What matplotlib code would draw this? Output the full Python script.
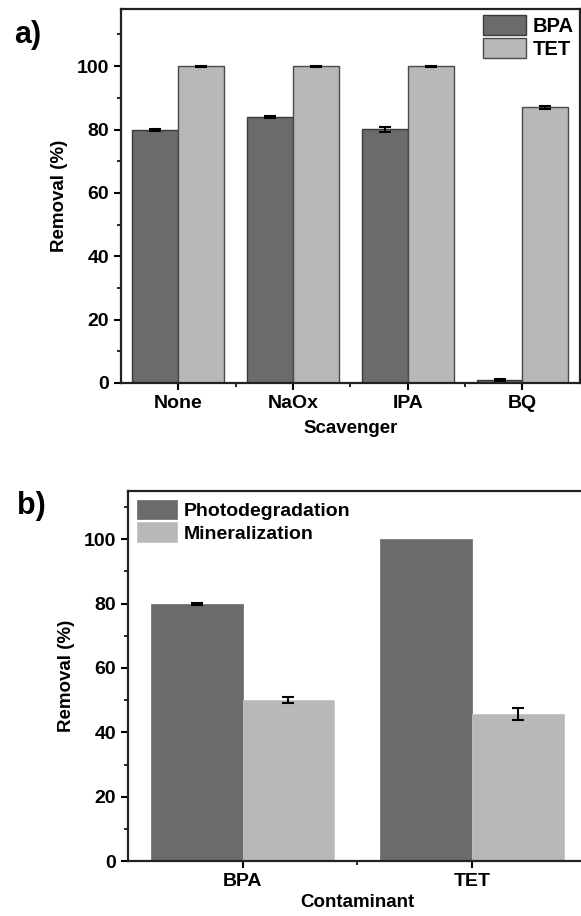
import numpy as np
import matplotlib.pyplot as plt
from matplotlib.ticker import MultipleLocator

plt.rcParams['font.family'] = ['Liberation Sans', 'DejaVu Sans']
plt.rcParams['font.weight'] = 'bold'

# scavenger test
scavengers = ['None', 'NaOx', 'IPA', 'BQ']
bpa_removal = [79.8, 84.0, 80.1, 0.8]
bpa_err = [0.3, 0.3, 0.8, 0.3]
tet_removal = [100.0, 100.0, 100.0, 87.0]
tet_err = [0.2, 0.2, 0.2, 0.4]

# photodegradation vs mineralization
contaminants = ['BPA', 'TET']
photo = [79.8, 100.0]
photo_err = [0.3, 0.0]
mineral = [50.0, 45.7]
mineral_err = [1.0, 1.8]

dark = '#6b6b6b'
light = '#b8b8b8'

fig = plt.figure(figsize=(5.81, 9.16), dpi=100)

def style_axis(ax, ymax):
    ax.set_ylim(0, ymax)
    ax.yaxis.set_major_locator(MultipleLocator(20))
    ax.yaxis.set_minor_locator(MultipleLocator(10))
    ax.tick_params(axis='both', which='major', direction='out', length=5, width=1.5,
                   labelsize=14)
    ax.tick_params(axis='both', which='minor', direction='out', length=3, width=1.2)
    for lab in ax.get_xticklabels() + ax.get_yticklabels():
        lab.set_fontweight('bold')
    for s in ax.spines.values():
        s.set_linewidth(1.6)
        s.set_color('#222222')

def add_errors(ax, xs, ys, errs):
    # only bars that actually have a spread get an error bar
    xs, ys, errs = np.asarray(xs), np.asarray(ys), np.asarray(errs)
    keep = errs > 0
    ax.errorbar(xs[keep], ys[keep], yerr=errs[keep], fmt='none', ecolor='black',
                elinewidth=1.5, capsize=4, capthick=1.5)

# a)
ax1 = fig.add_axes([0.208, 0.582, 0.790, 0.408])
x = np.arange(1, len(scavengers) + 1)
w = 0.4
ax1.bar(x - w/2, bpa_removal, w, color=dark, edgecolor='#3a3a3a', linewidth=1,
        label='BPA')
ax1.bar(x + w/2, tet_removal, w, color=light, edgecolor='#4a4a4a', linewidth=1,
        label='TET')
add_errors(ax1, x - w/2, bpa_removal, bpa_err)
add_errors(ax1, x + w/2, tet_removal, tet_err)
ax1.set_xlim(0.5, len(scavengers) + 0.5)
ax1.set_xticks(x)
ax1.set_xticklabels(scavengers)
ax1.set_xticks(np.arange(1.5, len(scavengers), 1), minor=True)
style_axis(ax1, 118)
ax1.set_ylabel('Removal (%)', fontsize=13.5, fontweight='bold', labelpad=6)
ax1.set_xlabel('Scavenger', fontsize=13.5, fontweight='bold', labelpad=6)
leg = ax1.legend(loc='upper right', fontsize=14.5, frameon=False, handlelength=2.1,
                 handleheight=1.15, handletextpad=0.35, labelspacing=0.12,
                 borderaxespad=0.15, borderpad=0.15)
for t in leg.get_texts():
    t.set_fontweight('bold')
fig.text(0.025, 0.962, 'a)', fontsize=22, fontweight='bold', va='center')

# b)
ax2 = fig.add_axes([0.220, 0.060, 0.790, 0.404])
x2 = np.arange(1, len(contaminants) + 1)
ax2.bar(x2 - w/2, photo, w, color=dark, edgecolor='#777777', linewidth=0.6,
        label='Photodegradation')
ax2.bar(x2 + w/2, mineral, w, color=light, edgecolor='#c4c4c4', linewidth=0.6,
        label='Mineralization')
add_errors(ax2, x2 - w/2, photo, photo_err)
add_errors(ax2, x2 + w/2, mineral, mineral_err)
ax2.set_xlim(0.5, len(contaminants) + 0.5)
ax2.set_xticks(x2)
ax2.set_xticklabels(contaminants)
ax2.set_xticks([1.5], minor=True)
style_axis(ax2, 115)
ax2.set_ylabel('Removal (%)', fontsize=13.5, fontweight='bold', labelpad=6)
ax2.set_xlabel('Contaminant', fontsize=13.5, fontweight='bold', labelpad=3)
leg2 = ax2.legend(loc='upper left', fontsize=14, frameon=False, handlelength=2.1,
                  handleheight=1.15, handletextpad=0.35, labelspacing=0.12,
                  borderaxespad=0.15, borderpad=0.3)
for t in leg2.get_texts():
    t.set_fontweight('bold')
fig.text(0.030, 0.448, 'b)', fontsize=22, fontweight='bold', va='center')

fig.savefig('out.png', dpi=100)
